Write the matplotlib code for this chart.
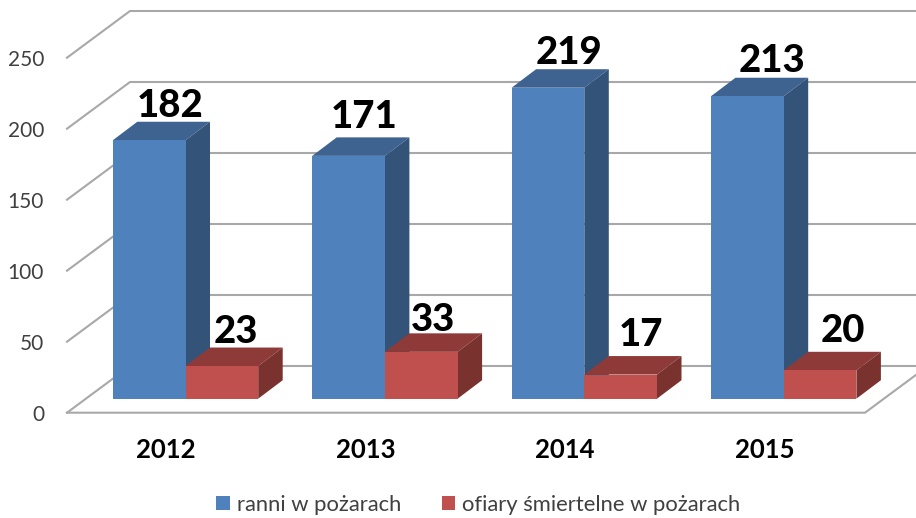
from matplotlib import pyplot as plt
from matplotlib.patches import Patch, Polygon

plt.rcParams['font.family'] = ['Lato', 'DejaVu Sans']

years = ['2012', '2013', '2014', '2015']
injured = [182, 171, 219, 213]
deaths = [23, 33, 17, 20]
y_ticks = [0, 50, 100, 150, 200, 250]
series_names = ['ranni w pożarach', 'ofiary śmiertelne w pożarach']

# nudges of the data labels in pixels, excel put them a bit unevenly
injured_nudge = [(21, 23), (16, 28), (21, 24), (25, 24)]
deaths_nudge = [(14, 23), (12, 21), (20, 29), (23, 28)]

W, H = 916, 518
X_PX = 199.4  # pixels per category
Y_PX = 1.42  # pixels per unit of value
X0_PX = 185.5  # pixel of category 0 (seam between the two bars)
Y0_PX = 398.7  # pixel of value 0 at the bar base

BAR_W = 72.7 / X_PX
BAR_DX, BAR_DY = 24.5 / X_PX, 18.5 / Y_PX  # bar depth
WALL_DX, WALL_DY = 63 / X_PX, 46.7 / Y_PX  # floor depth
FRONT_X = (67 - X0_PX) / X_PX
FRONT_Y = (Y0_PX - 412.7) / Y_PX
FRONT_R = (865 - X0_PX) / X_PX

GRID = '#a8a8a8'
BLUE = ('#4f81bd', '#3e6390', '#345378')
RED = ('#c0504d', '#8e3a38', '#7a322f')

fig = plt.figure(figsize=(W / 100, H / 100), dpi=100)
ax = fig.add_axes([0, 0, 1, 1])
ax.set_xlim(-X0_PX / X_PX, (W - X0_PX) / X_PX)
ax.set_ylim((Y0_PX - H) / Y_PX, Y0_PX / Y_PX)
ax.axis('off')

# walls: each gridline runs from the front edge to the back wall
for v in y_ticks:
    ax.plot([FRONT_X, FRONT_X + WALL_DX, FRONT_R + WALL_DX],
            [FRONT_Y + v, FRONT_Y + v + WALL_DY, FRONT_Y + v + WALL_DY],
            color=GRID, lw=1.5, zorder=1)
    ax.annotate(str(v), (FRONT_X, FRONT_Y + v), xytext=(-16.5, -1.5),
                textcoords='offset points', ha='right', va='center',
                fontsize=15, color='#404040')
# floor front edge and right edge
ax.plot([FRONT_X, FRONT_R, FRONT_R + WALL_DX],
        [FRONT_Y, FRONT_Y, FRONT_Y + WALL_DY], color=GRID, lw=1.5, zorder=1)


def draw_bar(left, value, colors, z):
    front, top, side = colors
    right = left + BAR_W
    ax.bar(left, value, BAR_W, align='edge', color=front, linewidth=0, zorder=z + 0.2)
    ax.add_patch(Polygon([(left, value), (right, value),
                          (right + BAR_DX, value + BAR_DY), (left + BAR_DX, value + BAR_DY)],
                         facecolor=top, edgecolor='none', zorder=z))
    ax.add_patch(Polygon([(right, 0), (right + BAR_DX, BAR_DY),
                          (right + BAR_DX, value + BAR_DY), (right, value)],
                         facecolor=side, edgecolor='none', zorder=z))


def draw_label(x, value, nudge):
    ax.annotate(str(value), (x, value), xytext=(nudge[0] * 0.72, nudge[1] * 0.72),
                textcoords='offset points', ha='center', va='baseline',
                fontsize=27.5, fontweight=900, color='black', zorder=20)


for i in range(len(years)):
    draw_bar(i - BAR_W, injured[i], BLUE, 3 + i)
    draw_bar(i, deaths[i], RED, 3.5 + i)
    draw_label(i - BAR_W / 2, injured[i], injured_nudge[i])
    draw_label(i + BAR_W / 2, deaths[i], deaths_nudge[i])
    ax.annotate(years[i], (i - 19.3 / X_PX, FRONT_Y), xytext=(0, -26.5),
                textcoords='offset points', ha='center', va='center',
                fontsize=18.5, fontweight='bold', color='black')

handles = [Patch(facecolor=BLUE[0], label=series_names[0]),
           Patch(facecolor=RED[0], label=series_names[1])]
ax.legend(handles=handles, loc='center', bbox_to_anchor=(478.5 / W, 1 - 505 / H), ncol=2,
          frameon=False, fontsize=15.8, labelcolor='#404040', handlelength=0.6,
          handleheight=0.6, handletextpad=0.32, columnspacing=1.87)

fig.savefig('out.png', dpi=100)
